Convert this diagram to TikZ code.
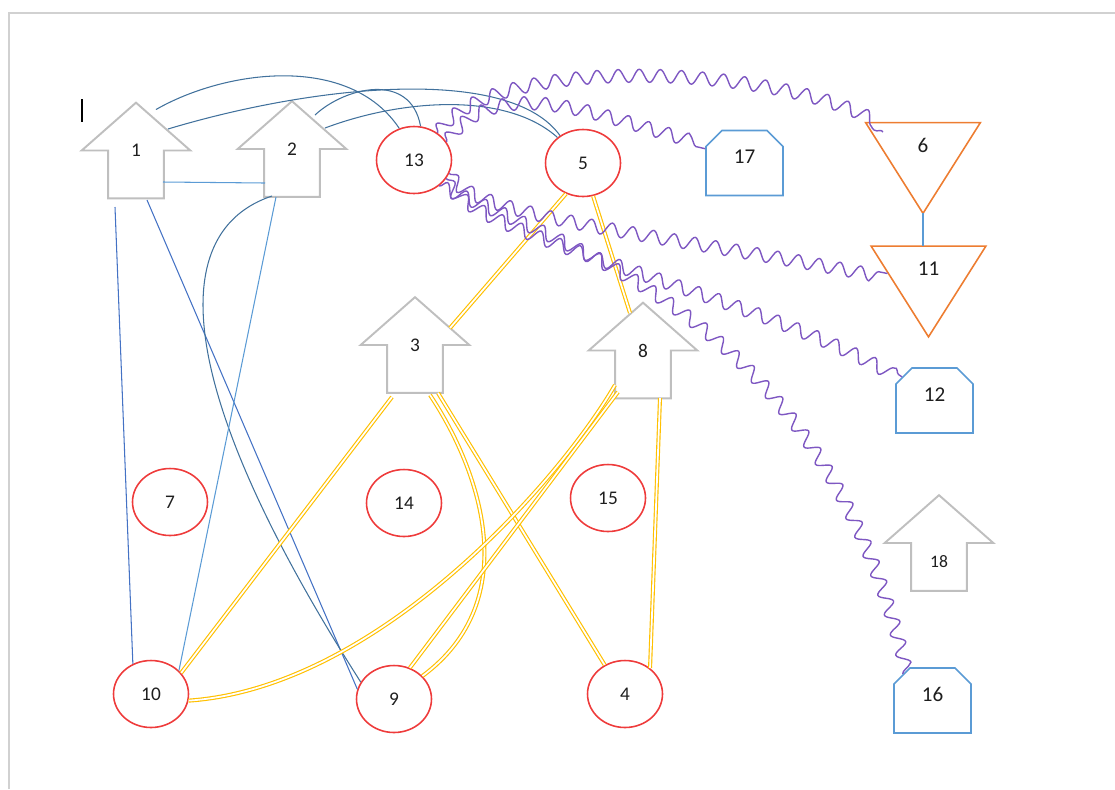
\documentclass[tikz,border=0pt]{standalone}
\usepackage{fontspec}
\setmainfont{Carlito}
\usetikzlibrary{positioning,calc,shapes.geometric,shapes.misc,decorations.pathmorphing}
\definecolor{shapegrey}{HTML}{BFBFBF}
\definecolor{shapered}{HTML}{EE3B3B}
\definecolor{shapeblue}{HTML}{5B9BD5}
\definecolor{shapeorange}{HTML}{ED7D31}
\definecolor{linkblue}{HTML}{4472C4}
\definecolor{linksteel}{HTML}{41719C}
\definecolor{linklight}{HTML}{5B9BD5}
\definecolor{linkgold}{HTML}{FFC000}
\definecolor{linkpurple}{HTML}{7E57C2}
\definecolor{labelgrey}{HTML}{1E1E1E}

% outline of a block arrow pointing up, drawn round a named node
\newcommand{\uparrowoutline}[1]{%
  \draw[shapegrey, line width=1.1pt, line join=miter]
    (#1.north) -- (#1.east) -- ([xshift=-0.53cm]#1.east)
    -- ([xshift=-0.53cm]#1.south east) -- ([xshift=0.53cm]#1.south west)
    -- ([xshift=0.53cm]#1.west) -- (#1.west) -- cycle;}
% outline of a triangle standing on its tip
\newcommand{\downtriangle}[1]{%
  \draw[shapeorange, line width=0.9pt, line join=miter]
    (#1.north west) -- (#1.north east) -- (#1.south) -- cycle;}

\begin{document}
\begin{tikzpicture}[
  x=0.02cm, y=-0.02cm,
  uparrow/.style={minimum width=2.16cm, minimum height=1.9cm, inner sep=0pt,
    text=labelgrey, font=\fontsize{11}{13}\selectfont},
  oval/.style={ellipse, draw=shapered, line width=0.9pt, minimum width=1.5cm,
    minimum height=1.34cm, inner sep=0pt, text=labelgrey, font=\fontsize{11}{13}\selectfont},
  tabbox/.style={chamfered rectangle, chamfered rectangle corners={north west,north east},
    chamfered rectangle xsep=0.16cm, chamfered rectangle ysep=0.16cm,
    draw=shapeblue, line width=0.9pt, minimum width=1.54cm, minimum height=1.3cm,
    inner sep=0pt, text depth=0.24cm, text=labelgrey, font=\fontsize{12}{14}\selectfont},
  tribox/.style={minimum width=2.28cm, minimum height=1.8cm, inner sep=0pt,
    text depth=0.92cm, text=labelgrey, font=\fontsize{12}{14}\selectfont},
  bluelink/.style={linkblue, line width=0.6pt},
  goldlink/.style={draw=linkgold, double=white, double distance=1pt, line width=0.65pt},
  snakelink/.style={linkpurple, line width=0.8pt, decorate,
    decoration={snake, amplitude=0.13cm, segment length=0.42cm}},
]
\useasboundingbox (0,0) rectangle (1115,789);

% page edge and text cursor
\draw[black!18, line width=1.6pt] (9,789) -- (9,13) -- (1115,13);
\draw[black, line width=0.8pt] (82,99) -- (82,122);

% ============ block arrows ============
\node[uparrow] (n1) at (136,150.5) {1};
\node[uparrow] (n2) at (292,149) {2};
\node[uparrow] (n3) at (415,345) {3};
\node[uparrow] (n8) at (643,350.5) {8};
\node[uparrow, text height=0.98cm, font=\fontsize{10}{12}\selectfont] (n18) at (939,543) {18};
\foreach \n in {n1,n2,n3,n8,n18} {\uparrowoutline{\n}}

% ============ ovals ============
\node[oval] (n13) at (414,160) {13};
\node[oval] (n5) at (583,163) {5};
\node[oval] (n7) at (170,502) {7};
\node[oval] (n14) at (404,503) {14};
\node[oval] (n15) at (608,498) {15};
\node[oval] (n10) at (151,694) {10};
\node[oval] (n9) at (394,699) {9};
\node[oval] (n4) at (625,694) {4};

% ============ triangles and tab boxes ============
\node[tribox] (n6) at (923,168) {6};
\node[tribox] (n11) at (928.5,291.5) {11};
\downtriangle{n6}
\downtriangle{n11}
\node[tabbox] (n17) at (744.5,163) {17};
\node[tabbox] (n12) at (934.5,400.5) {12};
\node[tabbox] (n16) at (932.5,700.5) {16};

% ============ blue links ============
\draw[bluelink, linksteel] ($(n1)+(20,-41)$) .. controls +(70,-40) and +(-50,-75) .. (n13.115);
\draw[bluelink, linksteel] ($(n1)+(32,-21.5)$) .. controls +(150,-45) and +(-50,-70) .. (n5.130);
\draw[bluelink, linksteel] ($(n2)+(23,-34)$) .. controls +(30,-28) and +(-10,-55) .. (n13.79);
\draw[bluelink, linksteel] ($(n2)+(33,-21)$) .. controls +(80,-30) and +(-50,-45) .. (n5.135);
\draw[bluelink, linklight] ($(n1)+(27,31.5)$) -- ($(n2)+(-27,34)$);
\draw[bluelink] ($(n1)+(-21,56.5)$) -- (n10.121);
\draw[bluelink] ($(n1)+(11,49.5)$) -- (n9.165);
\draw[bluelink, linksteel] ($(n2)+(-20,47)$) .. controls +(-102,34) and +(-194,-304) .. (n9.153);
\draw[bluelink, linklight] ($(n2)+(-16,48)$) -- (n10.40);
\draw[bluelink, linklight] (n6.south) -- (n6.south |- n11.north);

% ============ gold double links ============
\draw[goldlink] (n5.-119) -- ($(n3)+(35,-17)$);
\draw[goldlink] (n5.-73) -- ($(n8)+(-13,-37.5)$);
\draw[goldlink] ($(n3)+(-23,52)$) -- (n10.35);
\draw[goldlink] ($(n3)+(23,48)$) -- (n4.125);
\draw[goldlink] ($(n3)+(15,50)$) .. controls +(50,75) and +(103,-76) .. (n9.39);
\draw[goldlink] ($(n8)+(-28,34.5)$) .. controls +(-55,95) and +(190,-13) .. (n10.-10);
\draw[goldlink] ($(n8)+(-25,41.5)$) -- (n9.63);
\draw[goldlink] ($(n8)+(17,47.5)$) -- (n4.46);

% ============ purple wavy links from 13 ============
\draw[snakelink] (n13.49) .. controls +(60,-80) and +(-80,-60) .. ($(n6)+(-40,-36)$);
\draw[snakelink] (n13.29) .. controls +(53,-72) and +(-87,-19) .. (n17.160);
\draw[snakelink] (n13.-21) .. controls +(25,40) and +(-200,-40) .. ($(n11)+(-41,-18)$);
\draw[snakelink] (n13.-30) .. controls +(25,55) and +(-120,-80) .. (n12.144);
\draw[snakelink] (n13.-46) .. controls +(157,70) and +(-78,-340) .. (n16.138);

\end{tikzpicture}
\end{document}
